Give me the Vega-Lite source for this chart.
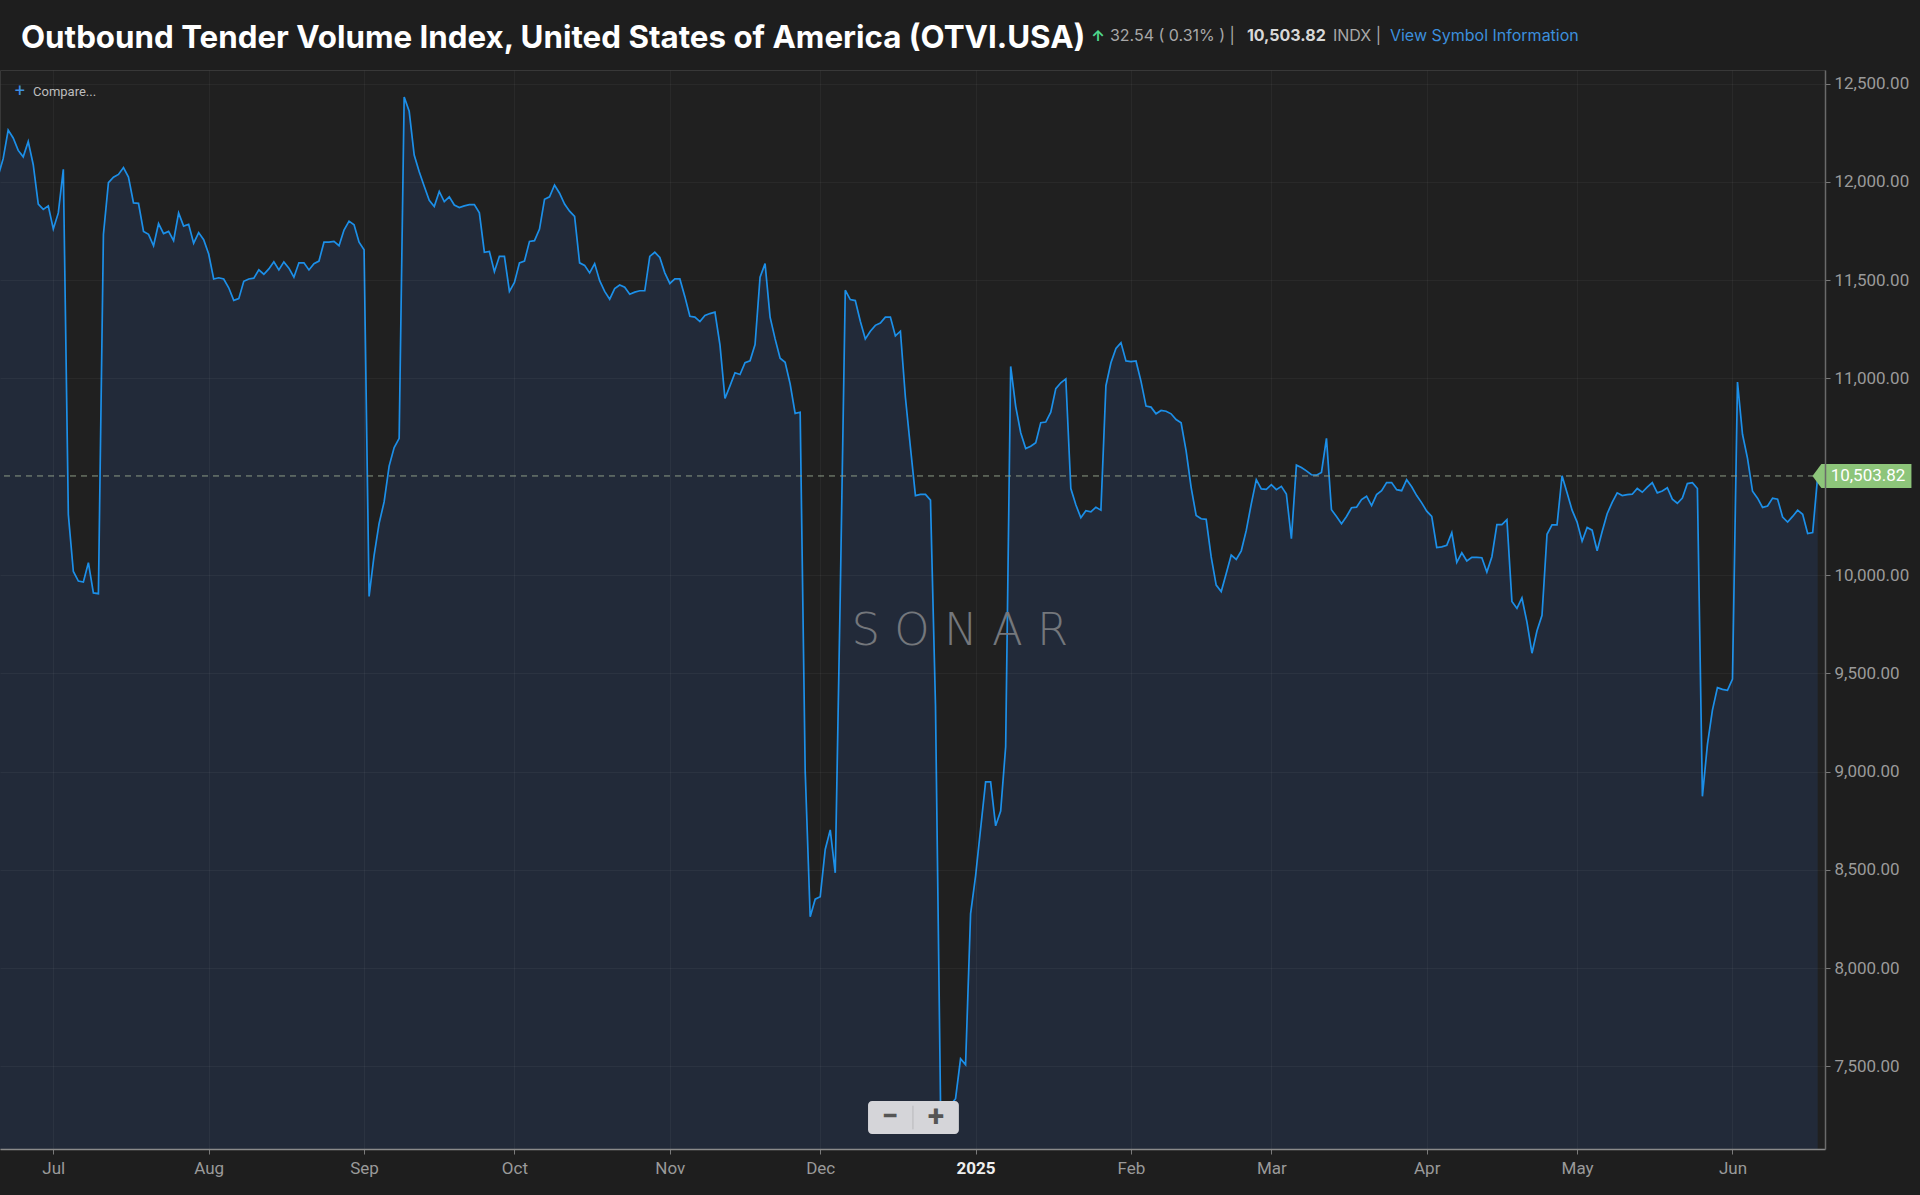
{
  "$schema": "https://vega.github.io/schema/vega-lite/v6.json",
  "width": 1825,
  "height": 1079,
  "autosize": {"type": "none"},
  "padding": {"left": 0, "top": 70, "right": 95, "bottom": 46},
  "background": "#1e1e1e",
  "config": {
    "font": "Inter",
    "view": {"fill": "#202020", "stroke": "#383838"}
  },
  "title": {
    "text": "Outbound Tender Volume Index, United States of America (OTVI.USA)",
    "anchor": "start",
    "frame": "group",
    "font": "Inter",
    "fontSize": 31.3,
    "fontWeight": "bold",
    "color": "#ffffff",
    "offset": -26,
    "dx": 21
  },
  "datasets": {
    "otvi": [
      {"d": "2024-06-20", "v": 12030}, {"d": "2024-06-21", "v": 12118}, {"d": "2024-06-22", "v": 12263},
      {"d": "2024-06-23", "v": 12223}, {"d": "2024-06-24", "v": 12160}, {"d": "2024-06-25", "v": 12127},
      {"d": "2024-06-26", "v": 12205}, {"d": "2024-06-27", "v": 12087}, {"d": "2024-06-28", "v": 11887},
      {"d": "2024-06-29", "v": 11860}, {"d": "2024-06-30", "v": 11878}, {"d": "2024-07-01", "v": 11760},
      {"d": "2024-07-02", "v": 11842}, {"d": "2024-07-03", "v": 12064}, {"d": "2024-07-04", "v": 10308},
      {"d": "2024-07-05", "v": 10018}, {"d": "2024-07-06", "v": 9969}, {"d": "2024-07-07", "v": 9964},
      {"d": "2024-07-08", "v": 10063}, {"d": "2024-07-09", "v": 9909}, {"d": "2024-07-10", "v": 9905},
      {"d": "2024-07-11", "v": 11733}, {"d": "2024-07-12", "v": 11996}, {"d": "2024-07-13", "v": 12024},
      {"d": "2024-07-14", "v": 12038}, {"d": "2024-07-15", "v": 12073}, {"d": "2024-07-16", "v": 12024},
      {"d": "2024-07-17", "v": 11893}, {"d": "2024-07-18", "v": 11891}, {"d": "2024-07-19", "v": 11748},
      {"d": "2024-07-20", "v": 11733}, {"d": "2024-07-21", "v": 11675}, {"d": "2024-07-22", "v": 11788},
      {"d": "2024-07-23", "v": 11737}, {"d": "2024-07-24", "v": 11748}, {"d": "2024-07-25", "v": 11701},
      {"d": "2024-07-26", "v": 11842}, {"d": "2024-07-27", "v": 11775}, {"d": "2024-07-28", "v": 11784},
      {"d": "2024-07-29", "v": 11688}, {"d": "2024-07-30", "v": 11742}, {"d": "2024-07-31", "v": 11706},
      {"d": "2024-08-01", "v": 11633}, {"d": "2024-08-02", "v": 11506}, {"d": "2024-08-03", "v": 11512},
      {"d": "2024-08-04", "v": 11506}, {"d": "2024-08-05", "v": 11461}, {"d": "2024-08-06", "v": 11397},
      {"d": "2024-08-07", "v": 11406}, {"d": "2024-08-08", "v": 11494}, {"d": "2024-08-09", "v": 11506},
      {"d": "2024-08-10", "v": 11510}, {"d": "2024-08-11", "v": 11552}, {"d": "2024-08-12", "v": 11530},
      {"d": "2024-08-13", "v": 11557}, {"d": "2024-08-14", "v": 11593}, {"d": "2024-08-15", "v": 11552},
      {"d": "2024-08-16", "v": 11593}, {"d": "2024-08-17", "v": 11561}, {"d": "2024-08-18", "v": 11515},
      {"d": "2024-08-19", "v": 11588}, {"d": "2024-08-20", "v": 11588}, {"d": "2024-08-21", "v": 11552},
      {"d": "2024-08-22", "v": 11584}, {"d": "2024-08-23", "v": 11597}, {"d": "2024-08-24", "v": 11693},
      {"d": "2024-08-25", "v": 11693}, {"d": "2024-08-26", "v": 11697}, {"d": "2024-08-27", "v": 11675},
      {"d": "2024-08-28", "v": 11755}, {"d": "2024-08-29", "v": 11800}, {"d": "2024-08-30", "v": 11782},
      {"d": "2024-08-31", "v": 11693}, {"d": "2024-09-01", "v": 11655}, {"d": "2024-09-02", "v": 9891},
      {"d": "2024-09-03", "v": 10100}, {"d": "2024-09-04", "v": 10263}, {"d": "2024-09-05", "v": 10372},
      {"d": "2024-09-06", "v": 10554}, {"d": "2024-09-07", "v": 10648}, {"d": "2024-09-08", "v": 10695},
      {"d": "2024-09-09", "v": 12432}, {"d": "2024-09-10", "v": 12359}, {"d": "2024-09-11", "v": 12136},
      {"d": "2024-09-12", "v": 12051}, {"d": "2024-09-13", "v": 11978}, {"d": "2024-09-14", "v": 11906},
      {"d": "2024-09-15", "v": 11875}, {"d": "2024-09-16", "v": 11951}, {"d": "2024-09-17", "v": 11900},
      {"d": "2024-09-18", "v": 11924}, {"d": "2024-09-19", "v": 11882}, {"d": "2024-09-20", "v": 11869},
      {"d": "2024-09-21", "v": 11878}, {"d": "2024-09-22", "v": 11884}, {"d": "2024-09-23", "v": 11884},
      {"d": "2024-09-24", "v": 11842}, {"d": "2024-09-25", "v": 11642}, {"d": "2024-09-26", "v": 11646},
      {"d": "2024-09-27", "v": 11543}, {"d": "2024-09-28", "v": 11621}, {"d": "2024-09-29", "v": 11621},
      {"d": "2024-09-30", "v": 11443}, {"d": "2024-10-01", "v": 11488}, {"d": "2024-10-02", "v": 11588},
      {"d": "2024-10-03", "v": 11597}, {"d": "2024-10-04", "v": 11697}, {"d": "2024-10-05", "v": 11701},
      {"d": "2024-10-06", "v": 11760}, {"d": "2024-10-07", "v": 11911}, {"d": "2024-10-08", "v": 11924},
      {"d": "2024-10-09", "v": 11984}, {"d": "2024-10-10", "v": 11942}, {"d": "2024-10-11", "v": 11887},
      {"d": "2024-10-12", "v": 11851}, {"d": "2024-10-13", "v": 11824}, {"d": "2024-10-14", "v": 11588},
      {"d": "2024-10-15", "v": 11575}, {"d": "2024-10-16", "v": 11537}, {"d": "2024-10-17", "v": 11584},
      {"d": "2024-10-18", "v": 11497}, {"d": "2024-10-19", "v": 11443}, {"d": "2024-10-20", "v": 11403},
      {"d": "2024-10-21", "v": 11457}, {"d": "2024-10-22", "v": 11475}, {"d": "2024-10-23", "v": 11464},
      {"d": "2024-10-24", "v": 11428}, {"d": "2024-10-25", "v": 11439}, {"d": "2024-10-26", "v": 11446},
      {"d": "2024-10-27", "v": 11446}, {"d": "2024-10-28", "v": 11621}, {"d": "2024-10-29", "v": 11642},
      {"d": "2024-10-30", "v": 11615}, {"d": "2024-10-31", "v": 11537}, {"d": "2024-11-01", "v": 11483},
      {"d": "2024-11-02", "v": 11506}, {"d": "2024-11-03", "v": 11506}, {"d": "2024-11-04", "v": 11416},
      {"d": "2024-11-05", "v": 11316}, {"d": "2024-11-06", "v": 11312}, {"d": "2024-11-07", "v": 11289},
      {"d": "2024-11-08", "v": 11320}, {"d": "2024-11-09", "v": 11330}, {"d": "2024-11-10", "v": 11337},
      {"d": "2024-11-11", "v": 11171}, {"d": "2024-11-12", "v": 10898}, {"d": "2024-11-13", "v": 10962},
      {"d": "2024-11-14", "v": 11029}, {"d": "2024-11-15", "v": 11020}, {"d": "2024-11-16", "v": 11080},
      {"d": "2024-11-17", "v": 11090}, {"d": "2024-11-18", "v": 11172}, {"d": "2024-11-19", "v": 11515},
      {"d": "2024-11-20", "v": 11584}, {"d": "2024-11-21", "v": 11312}, {"d": "2024-11-22", "v": 11201},
      {"d": "2024-11-23", "v": 11103}, {"d": "2024-11-24", "v": 11082}, {"d": "2024-11-25", "v": 10972},
      {"d": "2024-11-26", "v": 10822}, {"d": "2024-11-27", "v": 10828}, {"d": "2024-11-28", "v": 9007},
      {"d": "2024-11-29", "v": 8261}, {"d": "2024-11-30", "v": 8351}, {"d": "2024-12-01", "v": 8363},
      {"d": "2024-12-02", "v": 8604}, {"d": "2024-12-03", "v": 8703}, {"d": "2024-12-04", "v": 8485},
      {"d": "2024-12-05", "v": 9900}, {"d": "2024-12-06", "v": 11449}, {"d": "2024-12-07", "v": 11401},
      {"d": "2024-12-08", "v": 11396}, {"d": "2024-12-09", "v": 11291}, {"d": "2024-12-10", "v": 11201},
      {"d": "2024-12-11", "v": 11240}, {"d": "2024-12-12", "v": 11270}, {"d": "2024-12-13", "v": 11282},
      {"d": "2024-12-14", "v": 11312}, {"d": "2024-12-15", "v": 11312}, {"d": "2024-12-16", "v": 11216},
      {"d": "2024-12-17", "v": 11240}, {"d": "2024-12-18", "v": 10903}, {"d": "2024-12-19", "v": 10649},
      {"d": "2024-12-20", "v": 10404}, {"d": "2024-12-21", "v": 10410}, {"d": "2024-12-22", "v": 10410},
      {"d": "2024-12-23", "v": 10381}, {"d": "2024-12-24", "v": 9336}, {"d": "2024-12-25", "v": 7320},
      {"d": "2024-12-26", "v": 7290}, {"d": "2024-12-27", "v": 7305}, {"d": "2024-12-28", "v": 7336},
      {"d": "2024-12-29", "v": 7539}, {"d": "2024-12-30", "v": 7509}, {"d": "2024-12-31", "v": 8276},
      {"d": "2025-01-01", "v": 8470}, {"d": "2025-01-02", "v": 8709}, {"d": "2025-01-03", "v": 8948},
      {"d": "2025-01-04", "v": 8948}, {"d": "2025-01-05", "v": 8724}, {"d": "2025-01-06", "v": 8799},
      {"d": "2025-01-07", "v": 9127}, {"d": "2025-01-08", "v": 11061}, {"d": "2025-01-09", "v": 10858},
      {"d": "2025-01-10", "v": 10724}, {"d": "2025-01-11", "v": 10643}, {"d": "2025-01-12", "v": 10655},
      {"d": "2025-01-13", "v": 10673}, {"d": "2025-01-14", "v": 10775}, {"d": "2025-01-15", "v": 10778},
      {"d": "2025-01-16", "v": 10828}, {"d": "2025-01-17", "v": 10948}, {"d": "2025-01-18", "v": 10978},
      {"d": "2025-01-19", "v": 10998}, {"d": "2025-01-20", "v": 10440}, {"d": "2025-01-21", "v": 10357},
      {"d": "2025-01-22", "v": 10291}, {"d": "2025-01-23", "v": 10327}, {"d": "2025-01-24", "v": 10321},
      {"d": "2025-01-25", "v": 10345}, {"d": "2025-01-26", "v": 10330}, {"d": "2025-01-27", "v": 10963},
      {"d": "2025-01-28", "v": 11080}, {"d": "2025-01-29", "v": 11153}, {"d": "2025-01-30", "v": 11182},
      {"d": "2025-01-31", "v": 11089}, {"d": "2025-02-01", "v": 11086}, {"d": "2025-02-02", "v": 11089},
      {"d": "2025-02-03", "v": 10985}, {"d": "2025-02-04", "v": 10859}, {"d": "2025-02-05", "v": 10854},
      {"d": "2025-02-06", "v": 10820}, {"d": "2025-02-07", "v": 10837}, {"d": "2025-02-08", "v": 10833},
      {"d": "2025-02-09", "v": 10820}, {"d": "2025-02-10", "v": 10791}, {"d": "2025-02-11", "v": 10774},
      {"d": "2025-02-12", "v": 10631}, {"d": "2025-02-13", "v": 10446}, {"d": "2025-02-14", "v": 10303},
      {"d": "2025-02-15", "v": 10286}, {"d": "2025-02-16", "v": 10283}, {"d": "2025-02-17", "v": 10092},
      {"d": "2025-02-18", "v": 9949}, {"d": "2025-02-19", "v": 9916}, {"d": "2025-02-20", "v": 10008},
      {"d": "2025-02-21", "v": 10101}, {"d": "2025-02-22", "v": 10079}, {"d": "2025-02-23", "v": 10123},
      {"d": "2025-02-24", "v": 10227}, {"d": "2025-02-25", "v": 10362}, {"d": "2025-02-26", "v": 10485},
      {"d": "2025-02-27", "v": 10438}, {"d": "2025-02-28", "v": 10436}, {"d": "2025-03-01", "v": 10460},
      {"d": "2025-03-02", "v": 10434}, {"d": "2025-03-03", "v": 10451}, {"d": "2025-03-04", "v": 10412},
      {"d": "2025-03-05", "v": 10185}, {"d": "2025-03-06", "v": 10559}, {"d": "2025-03-07", "v": 10547},
      {"d": "2025-03-08", "v": 10530}, {"d": "2025-03-09", "v": 10510}, {"d": "2025-03-10", "v": 10508},
      {"d": "2025-03-11", "v": 10522}, {"d": "2025-03-12", "v": 10695}, {"d": "2025-03-13", "v": 10332},
      {"d": "2025-03-14", "v": 10298}, {"d": "2025-03-15", "v": 10261}, {"d": "2025-03-16", "v": 10298},
      {"d": "2025-03-17", "v": 10342}, {"d": "2025-03-18", "v": 10345}, {"d": "2025-03-19", "v": 10384},
      {"d": "2025-03-20", "v": 10401}, {"d": "2025-03-21", "v": 10353}, {"d": "2025-03-22", "v": 10409},
      {"d": "2025-03-23", "v": 10429}, {"d": "2025-03-24", "v": 10470}, {"d": "2025-03-25", "v": 10470},
      {"d": "2025-03-26", "v": 10434}, {"d": "2025-03-27", "v": 10429}, {"d": "2025-03-28", "v": 10485},
      {"d": "2025-03-29", "v": 10449}, {"d": "2025-03-30", "v": 10404}, {"d": "2025-03-31", "v": 10367},
      {"d": "2025-04-01", "v": 10325}, {"d": "2025-04-02", "v": 10298}, {"d": "2025-04-03", "v": 10140},
      {"d": "2025-04-04", "v": 10143}, {"d": "2025-04-05", "v": 10151}, {"d": "2025-04-06", "v": 10215},
      {"d": "2025-04-07", "v": 10064}, {"d": "2025-04-08", "v": 10113}, {"d": "2025-04-09", "v": 10071},
      {"d": "2025-04-10", "v": 10090}, {"d": "2025-04-11", "v": 10090}, {"d": "2025-04-12", "v": 10088},
      {"d": "2025-04-13", "v": 10015}, {"d": "2025-04-14", "v": 10093}, {"d": "2025-04-15", "v": 10256},
      {"d": "2025-04-16", "v": 10256}, {"d": "2025-04-17", "v": 10281}, {"d": "2025-04-18", "v": 9865},
      {"d": "2025-04-19", "v": 9830}, {"d": "2025-04-20", "v": 9883}, {"d": "2025-04-21", "v": 9760},
      {"d": "2025-04-22", "v": 9602}, {"d": "2025-04-23", "v": 9716}, {"d": "2025-04-24", "v": 9795},
      {"d": "2025-04-25", "v": 10207}, {"d": "2025-04-26", "v": 10255}, {"d": "2025-04-27", "v": 10255},
      {"d": "2025-04-28", "v": 10505}, {"d": "2025-04-29", "v": 10418}, {"d": "2025-04-30", "v": 10330},
      {"d": "2025-05-01", "v": 10269}, {"d": "2025-05-02", "v": 10172}, {"d": "2025-05-03", "v": 10242},
      {"d": "2025-05-04", "v": 10228}, {"d": "2025-05-05", "v": 10123}, {"d": "2025-05-06", "v": 10221},
      {"d": "2025-05-07", "v": 10312}, {"d": "2025-05-08", "v": 10369}, {"d": "2025-05-09", "v": 10418},
      {"d": "2025-05-10", "v": 10404}, {"d": "2025-05-11", "v": 10409}, {"d": "2025-05-12", "v": 10411},
      {"d": "2025-05-13", "v": 10440}, {"d": "2025-05-14", "v": 10421}, {"d": "2025-05-15", "v": 10447},
      {"d": "2025-05-16", "v": 10470}, {"d": "2025-05-17", "v": 10418}, {"d": "2025-05-18", "v": 10427},
      {"d": "2025-05-19", "v": 10444}, {"d": "2025-05-20", "v": 10386}, {"d": "2025-05-21", "v": 10365},
      {"d": "2025-05-22", "v": 10391}, {"d": "2025-05-23", "v": 10465}, {"d": "2025-05-24", "v": 10470},
      {"d": "2025-05-25", "v": 10440}, {"d": "2025-05-26", "v": 8874}, {"d": "2025-05-27", "v": 9137},
      {"d": "2025-05-28", "v": 9313}, {"d": "2025-05-29", "v": 9427}, {"d": "2025-05-30", "v": 9418},
      {"d": "2025-05-31", "v": 9413}, {"d": "2025-06-01", "v": 9470}, {"d": "2025-06-02", "v": 10982},
      {"d": "2025-06-03", "v": 10716}, {"d": "2025-06-04", "v": 10593}, {"d": "2025-06-05", "v": 10426},
      {"d": "2025-06-06", "v": 10391}, {"d": "2025-06-07", "v": 10344}, {"d": "2025-06-08", "v": 10351},
      {"d": "2025-06-09", "v": 10391}, {"d": "2025-06-10", "v": 10386}, {"d": "2025-06-11", "v": 10295},
      {"d": "2025-06-12", "v": 10269}, {"d": "2025-06-13", "v": 10298}, {"d": "2025-06-14", "v": 10330},
      {"d": "2025-06-15", "v": 10309}, {"d": "2025-06-16", "v": 10211}, {"d": "2025-06-17", "v": 10216},
      {"d": "2025-06-18", "v": 10503.82}
    ],
    "one": [{}]
  },
  "data": {"name": "one"},
  "layer": [
    {
      "data": {"name": "otvi"},
      "mark": {"type": "area", "clip": true, "color": "#222a39", "opacity": 1},
      "encoding": {
        "x": {
          "field": "d",
          "type": "temporal",
          "scale": {
            "type": "utc",
            "domain": [
              {"year": 2024, "month": 6, "date": 20, "hours": 8, "minutes": 48, "utc": true},
              {"year": 2025, "month": 6, "date": 19, "hours": 11, "utc": true}
            ]
          },
          "axis": {
            "title": null,
            "zindex": 1,
            "values": [
              {"year": 2024, "month": 7, "date": 1, "utc": true},
              {"year": 2024, "month": 8, "date": 1, "utc": true},
              {"year": 2024, "month": 9, "date": 1, "utc": true},
              {"year": 2024, "month": 10, "date": 1, "utc": true},
              {"year": 2024, "month": 11, "date": 1, "utc": true},
              {"year": 2024, "month": 12, "date": 1, "utc": true},
              {"year": 2025, "month": 1, "date": 1, "utc": true},
              {"year": 2025, "month": 2, "date": 1, "utc": true},
              {"year": 2025, "month": 3, "date": 1, "utc": true},
              {"year": 2025, "month": 4, "date": 1, "utc": true},
              {"year": 2025, "month": 5, "date": 1, "utc": true},
              {"year": 2025, "month": 6, "date": 1, "utc": true}
            ],
            "labelExpr": "utcmonth(datum.value) === 0 ? utcFormat(datum.value, '%Y') : utcFormat(datum.value, '%b')",
            "labelFont": "Roboto",
            "labelFontSize": 17,
            "labelColor": {"condition": {"test": "utcmonth(datum.value) === 0", "value": "#eeeeee"}, "value": "#9a9a9a"},
            "labelFontWeight": {"condition": {"test": "utcmonth(datum.value) === 0", "value": "bold"}, "value": "normal"},
            "labelPadding": 6,
            "tickSize": 5,
            "tickColor": "#7a7a7a",
            "domainColor": "#8a8a8a",
            "domainWidth": 1.5,
            "grid": true,
            "gridColor": "#ffffff",
            "gridOpacity": 0.045
          }
        },
        "y": {
          "field": "v",
          "type": "quantitative",
          "scale": {"domain": [7080, 12569], "zero": false, "nice": false},
          "axis": {
            "title": null,
            "orient": "right",
            "zindex": 1,
            "values": [7500, 8000, 8500, 9000, 9500, 10000, 11000, 11500, 12000, 12500],
            "format": ",.2f",
            "labelFont": "Roboto",
            "labelFontSize": 17,
            "labelColor": "#9a9a9a",
            "labelPadding": 4,
            "tickSize": 5,
            "tickColor": "#7a7a7a",
            "domainColor": "#6a6a6a",
            "domainWidth": 1.5,
            "grid": true,
            "gridColor": "#ffffff",
            "gridOpacity": 0.045
          }
        }
      }
    },
    {
      "data": {"name": "otvi"},
      "mark": {"type": "line", "clip": true, "color": "#1c8fe8", "strokeWidth": 1.7},
      "encoding": {
        "x": {"field": "d", "type": "temporal"},
        "y": {"field": "v", "type": "quantitative"}
      }
    },
    {
      "mark": {"type": "text", "font": "DejaVu Sans", "fontSize": 45, "fontWeight": 200, "color": "#74777c", "align": "center", "baseline": "middle"},
      "encoding": {
        "x": {"datum": {"year": 2024, "month": 12, "date": 28, "hours": 21, "utc": true}, "type": "temporal"},
        "y": {"datum": 9715},
        "text": {"value": "S O N A R"}
      }
    },
    {
      "mark": {"type": "rule", "color": "#8c9a85", "strokeDash": [6, 5], "strokeWidth": 1},
      "encoding": {"y": {"datum": 10503.82}}
    },
    {
      "mark": {"type": "point", "filled": true, "opacity": 1, "color": "#8dc57a", "size": 9801, "shape": "M -1 0 L -0.82 -0.2424 L 1 -0.2424 L 1 0.2424 L -0.82 0.2424 Z"},
      "encoding": {
        "x": {"datum": {"year": 2025, "month": 6, "date": 26, "hours": 20, "utc": true}, "type": "temporal"},
        "y": {"datum": 10503.82}
      }
    },
    {
      "mark": {"type": "text", "font": "Roboto", "fontSize": 17, "color": "#ffffff", "align": "center", "baseline": "middle"},
      "encoding": {
        "x": {"datum": {"year": 2025, "month": 6, "date": 28, "hours": 1, "utc": true}, "type": "temporal"},
        "y": {"datum": 10503.82},
        "text": {"value": "10,503.82"}
      }
    },
    {
      "mark": {"type": "rect", "color": "#d5d5d9", "cornerRadius": 4},
      "encoding": {
        "x": {"datum": {"year": 2024, "month": 12, "date": 10, "hours": 13, "utc": true}, "type": "temporal"},
        "x2": {"datum": {"year": 2024, "month": 12, "date": 28, "hours": 16, "utc": true}},
        "y": {"datum": 7324},
        "y2": {"datum": 7156}
      }
    },
    {
      "mark": {"type": "rule", "color": "#b8b8bc", "strokeWidth": 1},
      "encoding": {
        "x": {"datum": {"year": 2024, "month": 12, "date": 19, "hours": 12, "utc": true}, "type": "temporal"},
        "y": {"datum": 7300},
        "y2": {"datum": 7180}
      }
    },
    {
      "mark": {"type": "text", "font": "Roboto", "fontSize": 30, "fontWeight": "bold", "color": "#555555", "align": "center", "baseline": "middle"},
      "encoding": {
        "x": {"datum": {"year": 2024, "month": 12, "date": 14, "hours": 22, "utc": true}, "type": "temporal"},
        "y": {"datum": 7245},
        "text": {"value": "−"}
      }
    },
    {
      "mark": {"type": "text", "font": "Roboto", "fontSize": 30, "fontWeight": "bold", "color": "#555555", "align": "center", "baseline": "middle"},
      "encoding": {
        "x": {"datum": {"year": 2024, "month": 12, "date": 24, "hours": 2, "utc": true}, "type": "temporal"},
        "y": {"datum": 7245},
        "text": {"value": "+"}
      }
    },
    {
      "mark": {"type": "text", "font": "Roboto", "fontSize": 18, "color": "#3d8fe0", "align": "center", "baseline": "middle"},
      "encoding": {
        "x": {"datum": {"year": 2024, "month": 6, "date": 24, "hours": 8, "utc": true}, "type": "temporal"},
        "y": {"datum": 12457},
        "text": {"value": "+"}
      }
    },
    {
      "mark": {"type": "text", "font": "Roboto", "fontSize": 13, "color": "#bdbdbd", "align": "left", "baseline": "middle"},
      "encoding": {
        "x": {"datum": {"year": 2024, "month": 6, "date": 26, "hours": 23, "utc": true}, "type": "temporal"},
        "y": {"datum": 12457},
        "text": {"value": "Compare..."}
      }
    },
    {
      "mark": {"type": "text", "font": "Inter", "fontSize": 15, "fontWeight": "bold", "color": "#4fd88c", "align": "center", "baseline": "middle"},
      "encoding": {
        "x": {"datum": {"year": 2025, "month": 1, "date": 25, "hours": 10, "utc": true}, "type": "temporal"},
        "y": {"datum": 12742},
        "text": {"value": "↑"}
      }
    },
    {
      "mark": {"type": "text", "font": "Inter", "fontSize": 16, "color": "#a8a8a8", "align": "left", "baseline": "middle"},
      "encoding": {
        "x": {"datum": {"year": 2025, "month": 1, "date": 27, "hours": 19, "utc": true}, "type": "temporal"},
        "y": {"datum": 12742},
        "text": {"value": "32.54 ( 0.31% )  |"}
      }
    },
    {
      "mark": {"type": "text", "font": "Inter", "fontSize": 16, "fontWeight": "bold", "color": "#d8d8d8", "align": "left", "baseline": "middle"},
      "encoding": {
        "x": {"datum": {"year": 2025, "month": 2, "date": 24, "hours": 3, "utc": true}, "type": "temporal"},
        "y": {"datum": 12742},
        "text": {"value": "10,503.82"}
      }
    },
    {
      "mark": {"type": "text", "font": "Inter", "fontSize": 16, "color": "#a8a8a8", "align": "left", "baseline": "middle"},
      "encoding": {
        "x": {"datum": {"year": 2025, "month": 3, "date": 13, "hours": 7, "utc": true}, "type": "temporal"},
        "y": {"datum": 12742},
        "text": {"value": "INDX  |"}
      }
    },
    {
      "mark": {"type": "text", "font": "Inter", "fontSize": 16, "color": "#3c8fdc", "align": "left", "baseline": "middle"},
      "encoding": {
        "x": {"datum": {"year": 2025, "month": 3, "date": 24, "hours": 16, "utc": true}, "type": "temporal"},
        "y": {"datum": 12742},
        "text": {"value": "View Symbol Information"}
      }
    }
  ]
}
